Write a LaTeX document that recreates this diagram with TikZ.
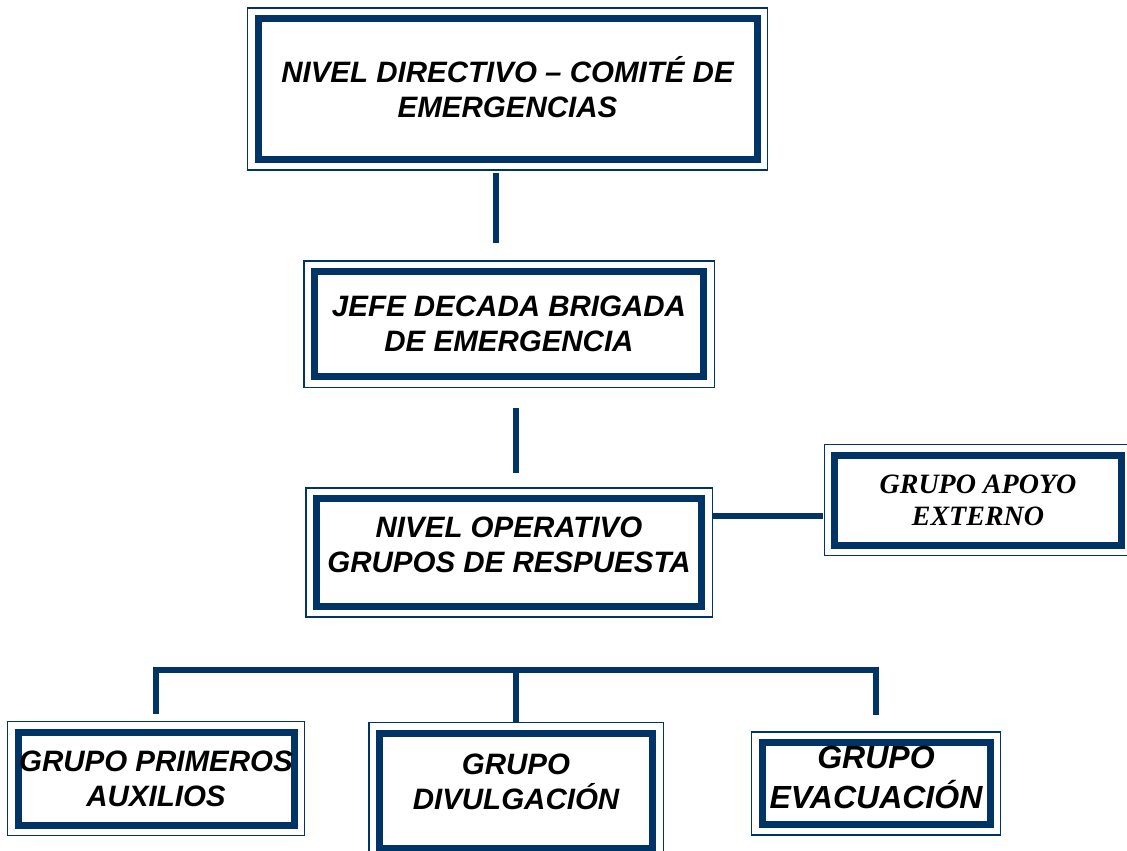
\documentclass[tikz,border=0pt]{standalone}
\usepackage{fontspec}
\usepackage{tikz}
\usepackage{xcolor}
\setmainfont{Liberation Sans}
\newfontfamily\serifbox{Liberation Serif}
\definecolor{navy}{RGB}{0,51,102}

\begin{document}
\begin{tikzpicture}[x=1pt, y=-1pt,
  box/.style={draw=navy, line width=7pt, inner sep=0pt, align=center,
    font=\fontsize{29.5}{35}\selectfont\bfseries\itshape},
  conn/.style={draw=navy, line width=6pt}]
  \useasboundingbox (0,0) rectangle (1127,851);

  \node (directivo) [box, minimum width=499pt, minimum height=141pt, text depth=5pt] at (507.5,89) {NIVEL DIRECTIVO – COMITÉ DE\\EMERGENCIAS};
  \node (jefe) [box, minimum width=389.5pt, minimum height=105.5pt, text depth=-6pt] at (509,324) {JEFE DECADA BRIGADA\\DE EMERGENCIA};
  \node (operativo) [box, minimum width=385.5pt, minimum height=108pt, text depth=16pt] at (509,552.5) {NIVEL OPERATIVO\\GRUPOS DE RESPUESTA};
  \node (apoyo) [box, minimum width=286.5pt, minimum height=90pt, text depth=-12pt,
    font=\fontsize{28}{32}\selectfont\serifbox\bfseries\itshape] at (978,500) {GRUPO APOYO\\EXTERNO};
  \node (primeros) [box, minimum width=276pt, minimum height=93pt, text depth=-8pt] at (156,778.5) {GRUPO PRIMEROS\\AUXILIOS};
  \node (divulga) [box, minimum width=273.5pt, minimum height=115pt, text depth=18pt] at (516,790.5) {GRUPO\\DIVULGACIÓN};
  \node (evacua) [box, minimum width=228pt, minimum height=82pt, text depth=13pt,
    font=\fontsize{32}{40}\selectfont\bfseries\itshape] at (876,783.5) {GRUPO\\EVACUACIÓN};

  \foreach \n in {directivo,jefe,operativo,apoyo,primeros,divulga,evacua}
    \draw[navy, line width=1.5pt] ([shift={(-7,-7)}]\n.north west) rectangle ([shift={(7,7)}]\n.south east);

  \draw[conn, shorten <=10pt, shorten >=25pt] ([xshift=-11.5pt]directivo.south) -- ([xshift=-11.5pt]directivo.south |- jefe.north);
  \draw[conn, shorten <=27.5pt, shorten >=22.5pt] ([xshift=7pt]jefe.south) -- ([xshift=7pt]jefe.south |- operativo.north);
  \draw[conn, shorten <=6.5pt, shorten >=8pt] ([yshift=37pt]operativo.east) -- ([yshift=37pt]operativo.east -| apoyo.west);

  \coordinate (bar) at (516,670);
  \draw[conn] ([yshift=15pt]primeros.north) |- (bar) -| ([yshift=24.5pt]evacua.north);
  \draw[conn] (bar) -- ([yshift=7pt]divulga.north);
\end{tikzpicture}
\end{document}
